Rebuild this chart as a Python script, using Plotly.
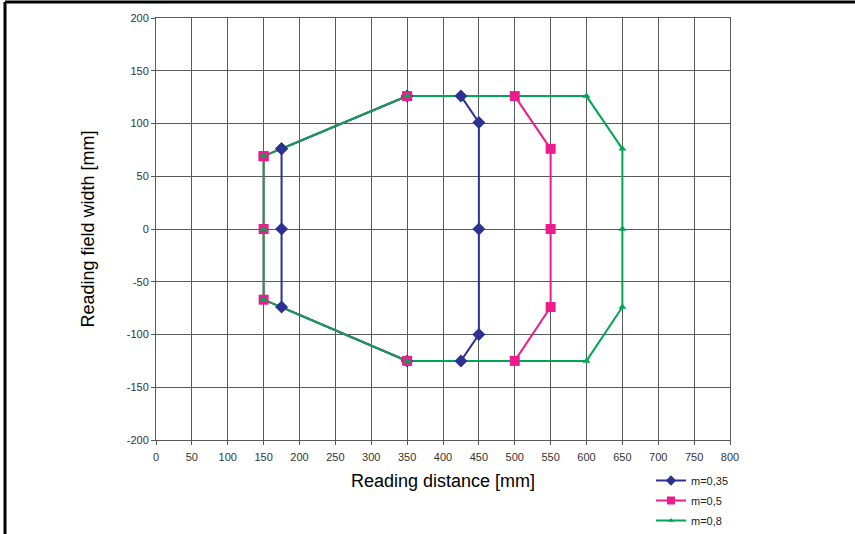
import plotly.graph_objects as go

# m=0,35
x_035 = [175, 175, 175, 350, 425, 450, 450, 450, 425, 350, 175]
y_035 = [76, 0, -74, -125, -125, -100, 0, 101, 126, 126, 76]
# m=0,5
x_05 = [150, 150, 150, 350, 500, 550, 550, 550, 500, 350, 150]
y_05 = [69, 0, -67, -125, -125, -74, 0, 76, 126, 126, 69]
# m=0,8
x_08 = [150, 150, 150, 350, 600, 650, 650, 650, 600, 350, 150]
y_08 = [69, 0, -67, -125, -125, -74, 0, 76, 126, 126, 69]

names = ["m=0,35", "m=0,5", "m=0,8"]
colors = ["#2E3192", "#EC1C8C", "#00A651"]
symbols = ["diamond", "square", "triangle-up"]
sizes = [10, 10, 7]
series = [(x_035, y_035), (x_05, y_05), (x_08, y_08)]

x_ticks = list(range(0, 801, 50))
y_ticks = list(range(-200, 201, 50))

fig = go.Figure()
# lines first
for (xs, ys), c in zip(series, colors):
    fig.add_trace(go.Scatter(x=xs, y=ys, mode="lines", line=dict(color=c, width=2),
                             showlegend=False, hoverinfo="skip"))
# then markers
for (xs, ys), c, s, sz, n in zip(series, colors, symbols, sizes, names):
    fig.add_trace(go.Scatter(x=xs, y=ys, mode="markers", name=n,
                             marker=dict(color=c, symbol=s, size=sz, line=dict(width=0)),
                             showlegend=False))
# legend entries
legend_ids = ["legend", "legend2", "legend3"]
for c, s, sz, n, lid in zip(colors, symbols, sizes, names, legend_ids):
    fig.add_trace(go.Scatter(x=[None], y=[None], mode="lines+markers", name=n,
                             line=dict(color=c, width=2),
                             marker=dict(color=c, symbol=s, size=sz - 2),
                             showlegend=True, legend=lid))

grid_col = "#5a5a5a"
axis_common = dict(showgrid=True, gridcolor=grid_col, gridwidth=1,
                   showline=True, linecolor=grid_col, linewidth=1, mirror=True,
                   ticks="outside", ticklen=4, tickcolor=grid_col, zeroline=False,
                   tickfont=dict(family="Liberation Sans, Arial", size=11, color="#333333"))

fig.update_layout(
    width=855, height=534,
    margin=dict(l=156, r=125, t=18, b=94, autoexpand=False),
    paper_bgcolor="white", plot_bgcolor="white",
    font=dict(family="Liberation Sans, Arial", color="black"),
    xaxis=dict(range=[0, 800], tickvals=x_ticks, ticktext=[str(v) for v in x_ticks],
               ticklabelstandoff=3,
               title=dict(text="Reading distance [mm]", font=dict(size=18), standoff=12),
               **axis_common),
    yaxis=dict(range=[-200, 200], tickvals=y_ticks, ticktext=[str(v) for v in y_ticks],
               title=dict(text="Reading field width [mm]", font=dict(size=18), standoff=27),
               **axis_common),
)
legend_tops = [466, 486, 506]
for lid, top in zip(legend_ids, legend_tops):
    fig.update_layout({lid: dict(x=651 / 855, y=1 - top / 534, xref="container", yref="container",
                                 xanchor="left", yanchor="top",
                                 bgcolor="rgba(0,0,0,0)", borderwidth=0,
                                 font=dict(size=11, family="Liberation Sans, Arial", color="#222222"),
                                 itemwidth=30)})

# outer frame lines (top and left)
fig.add_shape(type="line", xref="paper", yref="paper",
              x0=(5 - 156) / 574, x1=(860 - 156) / 574,
              y0=1 + (18 - 2) / 422, y1=1 + (18 - 2) / 422,
              line=dict(color="black", width=3))
fig.add_shape(type="line", xref="paper", yref="paper",
              x0=(5 - 156) / 574, x1=(5 - 156) / 574,
              y0=1 + (18 - 2) / 422, y1=-(540 - 440) / 422,
              line=dict(color="black", width=3))

fig.write_html("out.html")
